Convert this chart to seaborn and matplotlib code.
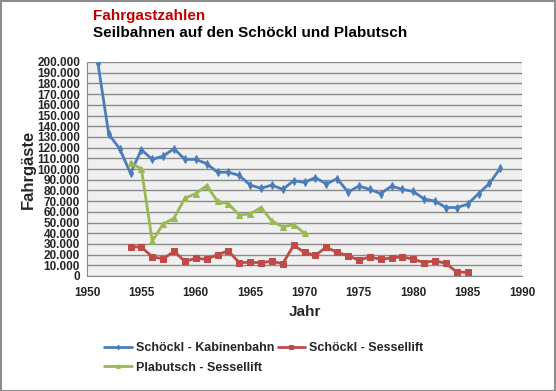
import pandas as pd
import seaborn as sns
import matplotlib.pyplot as plt
from matplotlib.patches import Rectangle
from matplotlib.ticker import FuncFormatter, MultipleLocator

years_kabine = list(range(1951, 1989))
kabinenbahn = [199000, 132500, 119000, 96000, 118000, 109000, 112000, 119000, 109000, 109000,
               105000, 97000, 97000, 94000, 85000, 82000, 85000, 81000, 89000, 87500,
               92000, 86000, 91000, 78500, 84000, 81000, 77000, 84000, 81000, 79000,
               72000, 70000, 64000, 64000, 67000, 77000, 86500, 100700]

years_sessel = list(range(1954, 1986))
schoeckl_sessel = [27400, 27000, 18000, 16000, 23000, 13700, 16500, 15600, 20000, 23400,
                   12500, 12800, 12500, 13700, 11500, 28700, 22000, 19300, 27000, 22000,
                   19000, 14800, 17800, 15600, 16800, 18000, 15600, 12500, 14300, 11800,
                   3700, 3400]

years_plab = list(range(1954, 1971))
plabutsch = [106000, 100000, 32700, 48600, 54000, 72600, 77000, 84500, 69800, 67500,
             57000, 58000, 64000, 51400, 46000, 48000, 40000]

labels = ["Schöckl - Kabinenbahn", "Schöckl - Sessellift", "Plabutsch - Sessellift"]
colors = ["#4A7EBB", "#BE4B48", "#98B954"]
markers = ["d", "s", "^"]

sns.set_style("white")
plt.rcParams["font.family"] = ["Liberation Sans", "DejaVu Sans"]
plt.rcParams["font.weight"] = "bold"

fig = plt.figure(figsize=(5.56, 3.91), dpi=100)
ax = fig.add_axes([87 / 556, 1 - 276 / 391, (522 - 87) / 556, (276 - 62) / 391])
ax.set_facecolor("#F0F0F0")

series = [(years_kabine, kabinenbahn), (years_sessel, schoeckl_sessel), (years_plab, plabutsch)]
handles = []
for (x, y), lab, col, mk in zip(series, labels, colors, markers):
    df = pd.DataFrame({"Jahr": x, "Fahrgäste": y})
    sns.lineplot(data=df, x="Jahr", y="Fahrgäste", ax=ax, color=col, linewidth=2,
                 marker=mk, markersize=4.5 if mk != "d" else 4, markeredgecolor=col,
                 label=lab, legend=False)
    handles.append(ax.lines[-1])

ax.set_xlim(1950, 1990)
ax.set_ylim(0, 200000)
ax.xaxis.set_major_locator(MultipleLocator(5))
ax.xaxis.set_minor_locator(MultipleLocator(1))
ax.yaxis.set_major_locator(MultipleLocator(10000))
ax.yaxis.set_major_formatter(FuncFormatter(lambda v, p: f"{int(v):,}".replace(",", ".")))
ax.grid(axis="y", color="#8A8A8A", linewidth=1)
ax.set_axisbelow(True)
for s in ["top", "right"]:
    ax.spines[s].set_visible(False)
for s in ["left", "bottom"]:
    ax.spines[s].set_color("#8A8A8A")
ax.tick_params(axis="x", which="major", direction="in", length=5, color="#8A8A8A",
               labelsize=8.5, pad=8)
ax.tick_params(axis="x", which="minor", direction="in", length=3, color="#8A8A8A")
ax.tick_params(axis="y", direction="out", length=3, color="#8A8A8A", labelsize=8.5, pad=2)
for t in ax.get_xticklabels() + ax.get_yticklabels():
    t.set_fontweight("bold")

ax.set_xlabel("Jahr", fontsize=11, fontweight="bold", labelpad=4)
ax.set_ylabel("Fahrgäste", fontsize=12, fontweight="bold", labelpad=1)

fig.text(93 / 556, 1 - 16 / 391, "Fahrgastzahlen", color="#C00000", fontsize=11,
         fontweight="bold", va="center", ha="left")
fig.text(93 / 556, 1 - 33 / 391, "Seilbahnen auf den Schöckl und Plabutsch", color="black",
         fontsize=11, fontweight="bold", va="center", ha="left")

# matplotlib fills legend columns first, so reorder to get the reference's row layout
order = [0, 2, 1]
fig.legend(handles=[handles[i] for i in order], labels=[labels[i] for i in order],
           loc="upper left", bbox_to_anchor=(93 / 556, 1 - 331 / 391), ncol=2, frameon=False,
           prop={"size": 9, "weight": "bold"}, handlelength=2.2, handletextpad=0.3,
           columnspacing=0.3, labelspacing=0.6, markerscale=0.6)

fig.patches.append(Rectangle((0.001, 0.001), 0.997, 0.996, transform=fig.transFigure,
                             fill=False, edgecolor="#8C8C8C", linewidth=1.5))

fig.savefig("out.png", dpi=100)
